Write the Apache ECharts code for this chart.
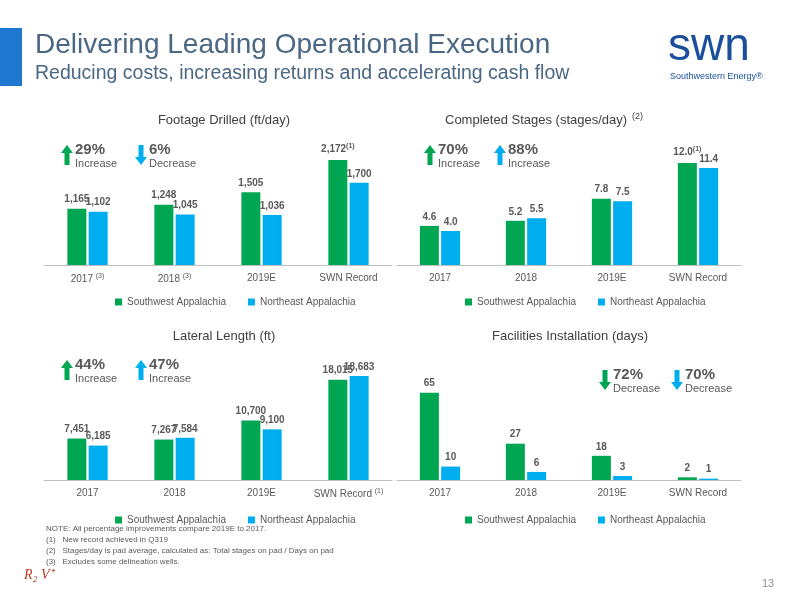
<!DOCTYPE html>
<html>
<head>
<meta charset="utf-8">
<script src="https://cdn.jsdelivr.net/npm/echarts@6/dist/echarts.min.js"></script>
<style>html,body{margin:0;padding:0;background:#fff}#main{width:800px;height:600px}</style>
</head>
<body>
<div id="main"></div>
<script>
var years = ['2017', '2018', '2019E', 'SWN Record'];
var footSW = [1165, 1248, 1505, 2172];
var footNE = [1102, 1045, 1036, 1700];
var stageSW = [4.6, 5.2, 7.8, 12.0];
var stageNE = [4.0, 5.5, 7.5, 11.4];
var latSW = [7451, 7267, 10700, 18015];
var latNE = [6185, 7584, 9100, 18683];
var facSW = [65, 27, 18, 2];
var facNE = [10, 6, 3, 1];

var GREEN = '#00A651', BLUE = '#00AEEF', GREY = '#595959';
var chart = echarts.init(document.getElementById('main'));

// superscripts for some bar labels and axis labels
var barNote = {'0-3': '(1)', '1-3': '(1)'};
var axisNote = {0: {0: '(3)', 1: '(3)'}, 2: {3: '(1)'}};

function grid(l, t, w) { return {left: l, top: t, width: w, height: 125}; }
var grids = [grid(44, 140, 348), grid(397, 140, 344), grid(44, 355, 348), grid(397, 355, 344)];
var maxes = [2586, 14.7, 22450, 93];
var decimals = [0, 1, 0, 0];
var sets = [[footSW, footNE], [stageSW, stageNE], [latSW, latNE], [facSW, facNE]];

var xAxis = [], yAxis = [], series = [];
grids.forEach(function (g, i) {
  xAxis.push({
    type: 'category', gridIndex: i, data: years,
    axisTick: {show: false},
    axisLine: {lineStyle: {color: '#bfbfbf'}},
    axisLabel: {
      color: GREY, fontSize: 10, margin: 8, interval: 0, hideOverlap: false,
      formatter: function (v, idx) {
        var n = axisNote[i] && axisNote[i][idx];
        return n ? v + ' {s|' + n + '}' : v;
      },
      rich: {s: {fontSize: 7, color: GREY, verticalAlign: 'top', padding: [0, 0, 6, 0]}}
    }
  });
  yAxis.push({type: 'value', gridIndex: i, min: 0, max: maxes[i], show: false, splitLine: {show: false}});
  [0, 1].forEach(function (k) {
    series.push({
      type: 'bar', xAxisIndex: i, yAxisIndex: i,
      name: k === 0 ? 'Southwest Appalachia' : 'Northeast Appalachia',
      data: sets[i][k], barWidth: 19, barGap: '12%',
      itemStyle: {color: k === 0 ? GREEN : BLUE},
      label: {
        show: true, position: 'top', distance: 4, color: GREY, fontSize: 10, fontWeight: 'bold',
        formatter: function (p) {
          var s = p.value.toLocaleString('en-US', {minimumFractionDigits: decimals[i], maximumFractionDigits: decimals[i]});
          var n = barNote[i + '-' + p.dataIndex];
          return (n && k === 0) ? s + '{s|' + n + '}' : s;
        },
        rich: {s: {fontSize: 7, color: GREY, verticalAlign: 'top', padding: [0, 0, 6, 0]}}
      }
    });
  });
});

function legend(left, top, idx) {
  return {
    left: left, top: top, itemWidth: 7, itemHeight: 7, itemGap: 22, icon: 'rect',
    textStyle: {color: GREY, fontSize: 10},
    data: ['Southwest Appalachia', 'Northeast Appalachia']
  };
}

function badge(x, y, up, color, pct, word) {
  var pts = up ? [[x + 5, y], [x + 11, y + 8], [x + 7.5, y + 8], [x + 7.5, y + 20], [x + 2.5, y + 20], [x + 2.5, y + 8], [x - 1, y + 8]]
              : [[x + 2.5, y], [x + 7.5, y], [x + 7.5, y + 12], [x + 11, y + 12], [x + 5, y + 20], [x - 1, y + 12], [x + 2.5, y + 12]];
  return [
    {type: 'polygon', shape: {points: pts}, style: {fill: color}},
    {type: 'text', left: x + 13, top: y - 3, style: {text: pct, fill: GREY, font: 'bold 15px "Liberation Sans"'}},
    {type: 'text', left: x + 13, top: y + 13, style: {text: word, fill: GREY, font: '11px "Liberation Sans"'}}
  ];
}

function title(cx, y, t) {
  return {type: 'text', x: cx, y: y, style: {text: t, fill: '#404040', font: '13px "Liberation Sans"', textAlign: 'center'}};
}

var graphics = [
  {type: 'rect', shape: {x: 0, y: 28, width: 22, height: 58}, style: {fill: '#1F77D0'}},
  {type: 'text', left: 35, top: 31, style: {text: 'Delivering Leading Operational Execution', fill: '#4A6784', font: '28px "Liberation Sans"'}},
  {type: 'text', left: 35, top: 64, style: {text: 'Reducing costs, increasing returns and accelerating cash flow', fill: '#4A6784', font: '19.5px "Liberation Sans"'}},
  {type: 'text', left: 668, top: 24, style: {text: 'swn', fill: '#1B4F9C', font: '46px "Liberation Sans"'}},
  {type: 'text', left: 670, top: 72, style: {text: 'Southwestern Energy\u00AE', fill: '#1B4F9C', font: '9px "Liberation Sans"'}},
  title(224, 114, 'Footage Drilled (ft/day)'),
  {type: 'text', x: 445, y: 114, style: {text: 'Completed Stages (stages/day)', fill: '#404040', font: '13px "Liberation Sans"'}},
  {type: 'text', x: 632, y: 112, style: {text: '(2)', fill: '#404040', font: '9px "Liberation Sans"'}},
  title(224, 330, 'Lateral Length (ft)'),
  title(570, 330, 'Facilities Installation (days)'),
  {type: 'text', left: 46, top: 523, style: {text: 'NOTE: All percentage improvements compare 2019E to 2017.\n(1)   New record achieved in Q319\n(2)   Stages/day is pad average, calculated as: Total stages on pad / Days on pad\n(3)   Excludes some delineation wells.', fill: GREY, font: '8px "Liberation Sans"', lineHeight: 11}},
  {type: 'text', left: 762, top: 578, style: {text: '13', fill: '#8c8c8c', font: '11px "Liberation Sans"'}},
  {type: 'text', left: 24, top: 568, style: {text: 'R\u2082 V\u207A', fill: '#C0392B', font: 'italic 14px "Liberation Serif"'}}
].concat(
  badge(62, 145, true, GREEN, '29%', 'Increase'),
  badge(136, 145, false, BLUE, '6%', 'Decrease'),
  badge(425, 145, true, GREEN, '70%', 'Increase'),
  badge(495, 145, true, BLUE, '88%', 'Increase'),
  badge(62, 360, true, GREEN, '44%', 'Increase'),
  badge(136, 360, true, BLUE, '47%', 'Increase'),
  badge(600, 370, false, GREEN, '72%', 'Decrease'),
  badge(672, 370, false, BLUE, '70%', 'Decrease')
);

chart.setOption({
  animation: false,
  textStyle: {fontFamily: 'Liberation Sans'},
  grid: grids,
  xAxis: xAxis,
  yAxis: yAxis,
  legend: [legend(110, 292), legend(460, 292), legend(110, 510), legend(460, 510)],
  series: series,
  graphic: graphics
});
</script>
</body>
</html>
